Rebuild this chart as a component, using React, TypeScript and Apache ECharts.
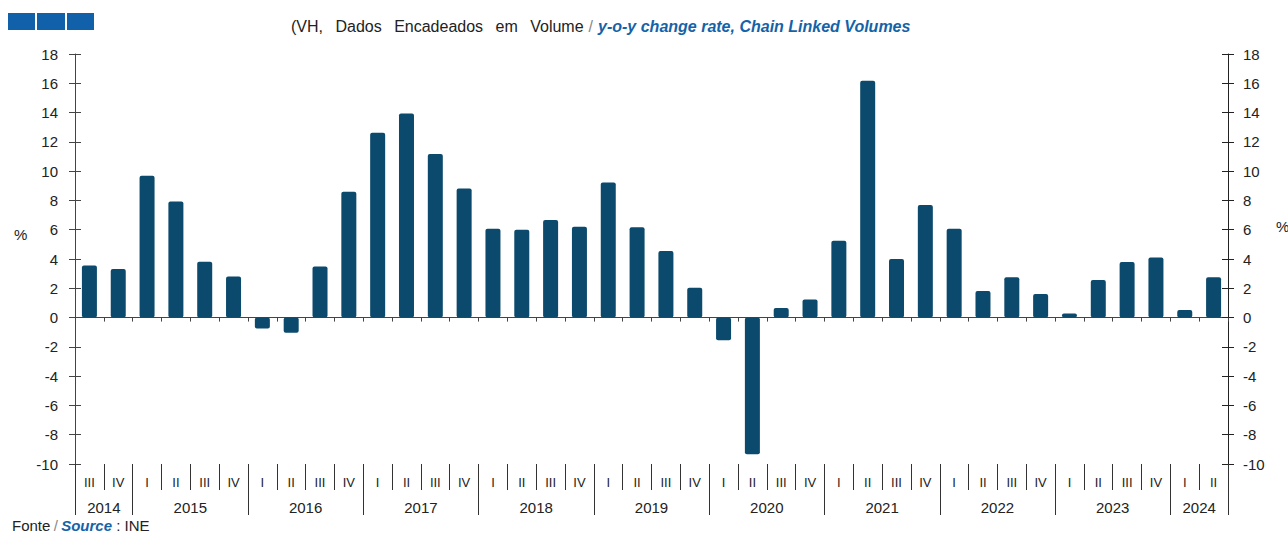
import React, { useEffect, useRef } from "react";
import * as echarts from "echarts";

const years = ["2014", "2015", "2016", "2017", "2018", "2019", "2020", "2021", "2022", "2023", "2024"];
const Q4 = ["I", "II", "III", "IV"];
const yearQuarters = [["III", "IV"], Q4, Q4, Q4, Q4, Q4, Q4, Q4, Q4, Q4, ["I", "II"]];
const values = [
  3.55, 3.32,
  9.69, 7.92, 3.82, 2.8,
  -0.75, -1.04, 3.48, 8.6,
  12.63, 13.93, 11.17, 8.81,
  6.07, 6.0, 6.66, 6.2,
  9.23, 6.16, 4.54, 2.04,
  -1.55, -9.33, 0.65, 1.24,
  5.25, 16.18, 4.0, 7.69,
  6.07, 1.82, 2.75, 1.61,
  0.27, 2.57, 3.8, 4.1,
  0.52, 2.75,
];
const yTicks = { min: -10, max: 18, interval: 2 };

const FONT = "'Liberation Sans', Arial, sans-serif";
const BAR = "#0b4a6c";
const BLUE = "#1463a8";
const AXIS = "#444";
const GAP = " \u2002";

export default function App() {
  const ref = useRef<HTMLDivElement>(null);
  useEffect(() => {
    document.body.style.margin = "0";
    const chart = echarts.init(ref.current!, null, { renderer: "svg" });
    const quarterLabels = yearQuarters.flat();
    const n = quarterLabels.length;
    const halfData: string[] = new Array(2 * n + 1).fill("");
    const tickSet = new Set<number>();
    let start = 0;
    yearQuarters.forEach((qs, i) => {
      tickSet.add(2 * start);
      halfData[2 * start + qs.length] = years[i];
      start += qs.length;
    });
    tickSet.add(2 * start);

    const yBase = {
      type: "value",
      min: yTicks.min,
      max: yTicks.max,
      interval: yTicks.interval,
      splitLine: { show: false },
    };

    const blackTitle = ["(VH,", "Dados", "Encadeados", "em", "Volume"].join(GAP);

    chart.setOption({
      animation: false,
      textStyle: { fontFamily: FONT },
      title: {
        left: 291,
        top: 17,
        padding: 0,
        text: "{a|" + blackTitle + "} {b|/} {c|y-o-y change rate, Chain Linked Volumes}",
        textStyle: {
          fontWeight: "normal",
          rich: {
            a: { fontSize: 16, color: "#222", fontWeight: "normal", fontFamily: FONT },
            b: { fontSize: 16, color: "#888", fontWeight: "normal", fontFamily: FONT },
            c: { fontSize: 16, color: BLUE, fontWeight: "bold", fontStyle: "italic", fontFamily: FONT },
          },
        },
      },
      grid: { left: 75, right: 60, top: 54, bottom: 72, containLabel: false },
      xAxis: [
        {
          type: "category",
          data: quarterLabels,
          position: "bottom",
          axisLine: { show: true, onZero: true, onZeroAxisIndex: 0, lineStyle: { color: AXIS, width: 1 } },
          axisTick: { show: true, length: 4, lineStyle: { color: AXIS } },
          axisLabel: { show: false },
          splitLine: { show: false },
        },
        {
          type: "category",
          data: quarterLabels,
          position: "bottom",
          axisLine: { show: false, onZero: false },
          axisTick: { show: true, length: 26, lineStyle: { color: "#333" } },
          axisLabel: { show: true, interval: 0, margin: 12, fontSize: 13, color: "#222", fontFamily: FONT },
          splitLine: { show: false },
        },
        {
          type: "category",
          data: halfData,
          boundaryGap: false,
          position: "bottom",
          axisLine: { show: false, onZero: false },
          axisTick: {
            show: true,
            length: 51,
            interval: (idx: number) => tickSet.has(idx),
            lineStyle: { color: "#333" },
          },
          axisLabel: { show: true, interval: 0, margin: 36, fontSize: 15, color: "#222", fontFamily: FONT },
          splitLine: { show: false },
        },
      ],
      yAxis: [
        {
          ...yBase,
          position: "left",
          axisLine: { show: true, lineStyle: { color: AXIS } },
          axisTick: { show: true, length: 6, lineStyle: { color: AXIS } },
          axisLabel: { margin: 17, fontSize: 15, color: "#222", fontFamily: FONT },
        },
        {
          ...yBase,
          position: "right",
          axisLine: { show: true, lineStyle: { color: "#222" } },
          axisTick: { show: true, length: 6, lineStyle: { color: "#222" } },
          axisLabel: { margin: 15, fontSize: 15, color: "#222", fontFamily: FONT },
        },
        {
          ...yBase,
          position: "left",
          axisLine: { show: false },
          axisTick: { show: true, inside: true, length: 6, lineStyle: { color: AXIS } },
          axisLabel: { show: false },
        },
        {
          ...yBase,
          position: "right",
          axisLine: { show: false },
          axisTick: { show: true, inside: true, length: 6, lineStyle: { color: "#222" } },
          axisLabel: { show: false },
        },
      ],
      series: [
        {
          type: "bar",
          xAxisIndex: 0,
          yAxisIndex: 0,
          data: values,
          barWidth: 15,
          itemStyle: { color: BAR, borderRadius: 2 },
          z: 1,
        },
      ],
      graphic: [
        { type: "rect", shape: { x: 8, y: 13, width: 27, height: 17 }, style: { fill: "#1160aa" } },
        { type: "rect", shape: { x: 37, y: 13, width: 28, height: 17 }, style: { fill: "#1160aa" } },
        { type: "rect", shape: { x: 67, y: 13, width: 27, height: 17 }, style: { fill: "#1160aa" } },
        { type: "text", left: 14, top: 227, style: { text: "%", fontSize: 15, fill: "#222", fontFamily: FONT } },
        { type: "text", left: 1276, top: 219, style: { text: "%", fontSize: 15, fill: "#222", fontFamily: FONT } },
        {
          type: "text",
          left: 12,
          top: 518,
          style: {
            text: "{a|Fonte} {b|/} {c|Source}{a| : INE}",
            rich: {
              a: { fontSize: 15, fill: "#222", fontFamily: FONT },
              b: { fontSize: 15, fill: "#888", fontFamily: FONT },
              c: { fontSize: 15, fill: BLUE, fontWeight: "bold", fontStyle: "italic", fontFamily: FONT },
            },
          },
        },
      ],
    });
    return () => chart.dispose();
  }, []);
  return <div ref={ref} style={{ width: 1288, height: 536 }} />;
}
